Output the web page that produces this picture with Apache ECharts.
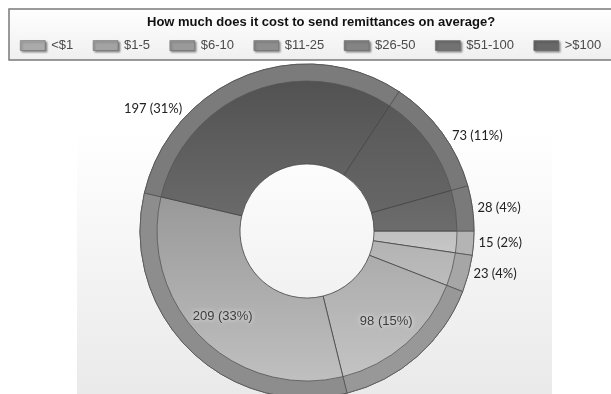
<!DOCTYPE html>
<html>
<head>
<meta charset="utf-8">
<script src="https://cdn.jsdelivr.net/npm/echarts@6/dist/echarts.min.js"></script>
<style>
html,body{margin:0;padding:0;background:#fff;}
#chart{width:611px;height:394px;}
</style>
</head>
<body>
<div id="chart"></div>
<script>
const titleText = 'How much does it cost to send remittances on average?';
const categories = ['<$1', '$1-5', '$6-10', '$11-25', '$26-50', '$51-100', '>$100'];
const counts = [15, 23, 98, 209, 197, 73, 28];

// styling
const sliceTop    = ['#c0c0c0', '#b3b3b3', '#acacac', '#989898', '#4f4f4f', '#575757', '#646464'];
const sliceBottom = ['#c8c8c8', '#bdbdbd', '#c6c6c6', '#c3c3c3', '#6a6a6a', '#666666', '#6c6c6c'];
const bandColors  = ['#b4b4b4', '#a6a6a6', '#989898', '#8d8d8d', '#7b7b7b', '#787878', '#7a7a7a'];
const legendColors = ['#aaaaaa', '#a3a3a3', '#9a9a9a', '#8e8e8e', '#848484', '#727272', '#686868'];
const insideLabel = [false, false, true, true, false, false, false];

const chart = echarts.init(document.getElementById('chart'), null, {renderer: 'canvas'});

function grad(a, b) {
  return new echarts.graphic.LinearGradient(0, 0, 0, 1, [{offset: 0, color: a}, {offset: 1, color: b}]);
}

const mainData = categories.map((name, i) => {
  const item = {
    name: name,
    value: counts[i],
    itemStyle: {color: grad(sliceTop[i], sliceBottom[i])}
  };
  if (insideLabel[i]) {
    item.label = {
      position: 'inside',
      fontFamily: '"Liberation Sans", Arial, sans-serif',
      fontSize: 13,
      color: '#3c3c3c',
      textShadowColor: 'rgba(255,255,255,0.9)',
      textShadowBlur: 4
    };
  }
  return item;
});

const bandData = counts.map((v, i) => ({
  value: v,
  itemStyle: {color: bandColors[i]}
}));

const option = {
  animation: false,
  backgroundColor: '#ffffff',
  graphic: [
    {
      type: 'rect', z: -10,
      shape: {x: 77, y: 132, width: 475, height: 270},
      style: {fill: new echarts.graphic.LinearGradient(0, 0, 0, 1, [
        {offset: 0, color: '#ffffff'}, {offset: 1, color: '#e9e9e9'}])}
    },
    {
      type: 'rect', z: -10,
      shape: {x: 9, y: 9, width: 640, height: 51},
      style: {
        fill: new echarts.graphic.LinearGradient(0, 0, 0, 1, [
          {offset: 0, color: '#ffffff'}, {offset: 1, color: '#efefef'}]),
        stroke: '#7a7a7a', lineWidth: 1.5
      }
    }
  ],
  title: {
    text: titleText,
    left: 147,
    top: 16,
    padding: 0,
    textStyle: {
      fontFamily: '"Liberation Sans", Arial, sans-serif',
      fontWeight: 'bold',
      fontSize: 13,
      color: '#111'
    }
  },
  legend: {
    left: 20,
    top: 39,
    padding: 0,
    itemWidth: 25,
    itemHeight: 10,
    itemGap: 19.5,
    icon: 'rect',
    data: categories.map((name, i) => ({
      name: name,
      itemStyle: {
        color: grad(legendColors[i], legendColors[i]),
        borderColor: '#666',
        borderWidth: 0.5,
        shadowColor: 'rgba(0,0,0,0.45)',
        shadowBlur: 2,
        shadowOffsetX: 1.5,
        shadowOffsetY: 1.5
      }
    })),
    textStyle: {
      fontFamily: '"Liberation Sans", Arial, sans-serif',
      fontSize: 13,
      color: '#4a4a4a',
      padding: [0, 0, 0, 1]
    }
  },
  series: [
    {
      type: 'pie',
      name: 'main',
      center: [307, 231],
      radius: [67, 167],
      startAngle: 0,
      clockwise: true,
      percentPrecision: 0,
      avoidLabelOverlap: false,
      itemStyle: {borderColor: '#444', borderWidth: 0.8},
      label: {
        show: true,
        position: 'outside',
        formatter: '{c} ({d}%)',
        fontFamily: 'Lato, "Open Sans", sans-serif',
        fontSize: 13,
        color: '#222',
        distanceToLabelLine: 5
      },
      labelLine: {show: false, length: 0, length2: 0},
      labelLayout: function (params) {
        if (params.dataIndex === 4) {
          return {dx: -58, dy: 33};
        }
        if (params.dataIndex === 5) {
          return {dx: 5, dy: 3};
        }
        return {};
      },
      data: mainData
    },
    {
      type: 'pie',
      name: 'band',
      silent: true,
      center: [307, 231],
      radius: [150, 167],
      startAngle: 0,
      clockwise: true,
      label: {show: false},
      labelLine: {show: false},
      itemStyle: {borderColor: '#555', borderWidth: 0.8},
      data: bandData
    }
  ]
};

chart.setOption(option);
</script>
</body>
</html>
